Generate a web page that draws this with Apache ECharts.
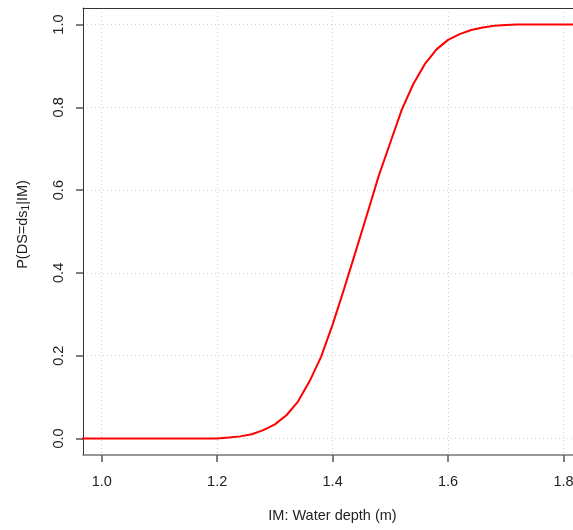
<!DOCTYPE html>
<html>
<head>
<meta charset="utf-8">
<script src="https://cdn.jsdelivr.net/npm/echarts@6/dist/echarts.min.js"></script>
<style>
	html, body { margin: 0; padding: 0; background: #fff; overflow: hidden; }
	#chart { width: 590px; height: 530px; }
</style>
</head>
<body>
<div id="chart"></div>
<script>
var depth = [0.90, 1.00, 1.02, 1.04, 1.06, 1.08, 1.10, 1.12, 1.14, 1.16, 1.18, 1.20,
	1.22, 1.24, 1.26, 1.28, 1.30, 1.32, 1.34, 1.36, 1.38, 1.40,
	1.42, 1.44, 1.46, 1.48, 1.50, 1.52, 1.54, 1.56, 1.58, 1.60,
	1.62, 1.64, 1.66, 1.68, 1.70, 1.72, 1.74, 1.76, 1.78, 1.80, 1.90]; //水深
var probDS1 = [0, 0, 0, 0, 0, 0, 0, 0, 0, 0, 0, 0,
	0.002, 0.005, 0.010, 0.020, 0.034, 0.056, 0.089, 0.138, 0.197, 0.275,
	0.362, 0.452, 0.543, 0.635, 0.715, 0.795, 0.857, 0.905, 0.940, 0.963,
	0.977, 0.987, 0.993, 0.997, 0.999, 1, 1, 1, 1, 1, 1]; //P(DS=ds1|IM)
var xTicks = [1.0, 1.2, 1.4, 1.6, 1.8];
var yTicks = [0, 0.2, 0.4, 0.6, 0.8, 1.0];

var fontFamily = 'Liberation Sans, Arial, sans-serif';
var points = depth.map(function (d, i) { return [d, probDS1[i]]; });

var chart = echarts.init(document.getElementById('chart'));
chart.setOption({
	animation: false,
	grid: {
		left: 83,
		top: 8,
		bottom: 75,
		right: 8,
		outerBoundsMode: 'none'
	},
	xAxis: [{
		type: 'value',
		min: 0.9676,
		max: 1.832,
		name: 'IM: Water depth (m)',
		nameLocation: 'middle',
		nameGap: 53,
		nameTextStyle: { fontFamily: fontFamily, fontSize: 14.5, color: '#222' },
		axisLine: { show: true, onZero: false, lineStyle: { color: '#777', width: 1.5 } },
		axisTick: { show: true, length: 7, customValues: xTicks, lineStyle: { color: '#555', width: 1.5 } },
		axisLabel: {
			customValues: xTicks,
			margin: 19,
			fontFamily: fontFamily,
			fontSize: 14.5,
			color: '#222',
			formatter: function (v) { return v.toFixed(1); }
		},
		splitLine: { show: true, lineStyle: { color: '#d0d0d0', type: [1, 3], width: 1 } }
	}, {
		type: 'value',
		position: 'top',
		min: 0.9676,
		max: 1.832,
		axisLine: { show: true, onZero: false, lineStyle: { color: '#333', width: 1 } },
		axisTick: { show: false },
		axisLabel: { show: false },
		splitLine: { show: false }
	}],
	yAxis: {
		type: 'value',
		min: -0.04,
		max: 1.04,
		name: 'P(DS=ds{sub|1}|IM)',
		nameLocation: 'middle',
		nameGap: 52,
		nameTextStyle: {
			fontFamily: fontFamily, fontSize: 14.5, color: '#222', padding: [0, 0, 0, 14],
			rich: {
				sub: { fontFamily: fontFamily, fontSize: 10, color: '#222', padding: [7, 0, 0, 0] }
			}
		},
		axisLine: { show: true, onZero: false, lineStyle: { color: '#333', width: 1 } },
		axisTick: { show: true, length: 7, customValues: yTicks, lineStyle: { color: '#555', width: 1.5 } },
		axisLabel: {
			customValues: yTicks,
			rotate: 90,
			margin: 17,
			fontFamily: fontFamily,
			fontSize: 14.5,
			color: '#222',
			formatter: function (v) { return v.toFixed(1); }
		},
		splitLine: { show: true, lineStyle: { color: '#d0d0d0', type: [1, 3], width: 1 } }
	},
	series: [{
		type: 'line',
		data: points,
		showSymbol: false,
		symbol: 'none',
		lineStyle: { color: '#ff0000', width: 2 },
		clip: true
	}]
});
</script>
</body>
</html>
